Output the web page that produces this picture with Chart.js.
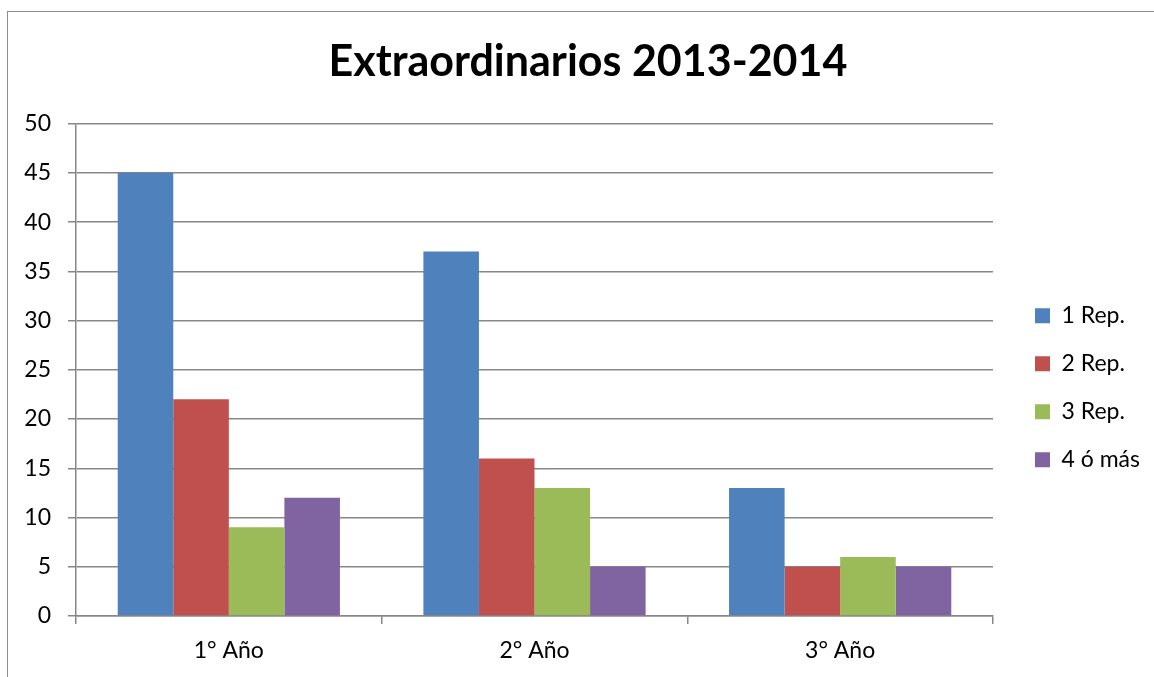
<!DOCTYPE html>
<html>
<head>
<meta charset="utf-8">
<script src="https://cdn.jsdelivr.net/npm/chart.js@4.4.0/dist/chart.umd.min.js"></script>
<style>
  html, body { margin: 0; padding: 0; background: #ffffff; overflow: hidden; }
  #frame { position: absolute; left: 7px; top: 11px; width: 1300px; height: 800px; border: 1.5px solid #8c8c8c; box-sizing: border-box; }
  #c { position: absolute; left: 0; top: 0; }
</style>
</head>
<body>
<div id="frame"></div>
<canvas id="c" width="1154" height="677"></canvas>
<script>
const categories = ["1° Año", "2° Año", "3° Año"];
const seriesNames = ["1 Rep.", "2 Rep.", "3 Rep.", "4 ó más"];
const rep1 = [45, 37, 13];
const rep2 = [22, 16, 5];
const rep3 = [9, 13, 6];
const rep4 = [12, 5, 5];
const yTicks = [0, 5, 10, 15, 20, 25, 30, 35, 40, 45, 50];
const colors = ["#4F81BD", "#C0504D", "#9BBB59", "#8064A2"];

const FONT = "Lato, 'Open Sans', sans-serif";
const GRID = "#878787";

const legendTweak = {
  id: 'legendTweak',
  beforeLayout(chart) {
    const lg = chart.legend;
    if (lg && !lg._patched) {
      const orig = lg.fit.bind(lg);
      lg.fit = function () { orig(); this.width = 161; };
      lg._patched = true;
    }
  },
  afterLayout(chart) {
    const lg = chart.legend;
    if (lg) {
      lg.left += 17; lg.right += 17;
      lg.top += 18; lg.bottom += 18;
    }
  }
};

const values = [rep1, rep2, rep3, rep4];
new Chart(document.getElementById('c'), {
  type: 'bar',
  data: {
    labels: categories,
    datasets: seriesNames.map((n, i) => ({
      label: n,
      data: values[i],
      backgroundColor: colors[i],
      borderWidth: 0,
      categoryPercentage: 0.727,
      barPercentage: 1.0
    }))
  },
  options: {
    responsive: false,
    animation: false,
    devicePixelRatio: 1,
    layout: { padding: { left: 22, right: 0, top: 0, bottom: 0 } },
    plugins: {
      title: {
        display: true,
        text: "Extraordinarios 2013-2014",
        color: "#000000",
        font: { family: FONT, size: 43, weight: 'bold' },
        padding: { top: 36, bottom: 36 }
      },
      legend: {
        display: true,
        position: 'right',
        fullSize: false,
        labels: {
          color: "#000000",
          font: { family: FONT, size: 23 },
          boxWidth: 15,
          boxHeight: 15,
          padding: 25
        }
      },
      tooltip: { enabled: false }
    },
    scales: {
      x: {
        grid: { display: true, drawOnChartArea: false, drawTicks: true, tickLength: 8, color: GRID, lineWidth: 1.5, offset: true },
        border: { display: true, color: GRID, width: 1.5 },
        ticks: { color: "#000000", font: { family: FONT, size: 23 }, padding: 13, maxRotation: 0 },
        afterFit(scale) { scale.height = 61; }
      },
      y: {
        min: 0, max: 50,
        afterBuildTicks(scale) { scale.ticks = yTicks.map(v => ({ value: v })); },
        grid: { display: true, drawTicks: true, tickLength: 8, color: GRID, lineWidth: 1.5 },
        border: { display: true, color: GRID, width: 1.5 },
        ticks: { color: "#000000", font: { family: FONT, size: 23 }, padding: 17 },
        afterFit(scale) { scale.width = 54; }
      }
    }
  },
  plugins: [legendTweak]
});
</script>
</body>
</html>
